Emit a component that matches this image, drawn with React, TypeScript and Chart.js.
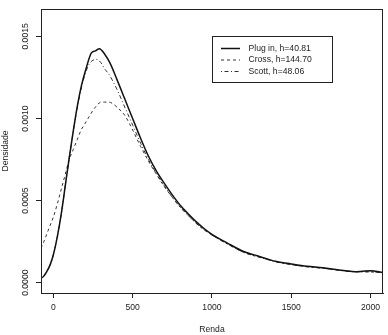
import React, { useEffect, useRef } from "react";
import { Chart, registerables } from "chart.js";

Chart.register(...registerables);

const plugX = [-78, -60, -40, -20, 0, 25, 50, 75, 100, 125, 150, 177, 205, 240, 265, 290, 325, 356, 400, 450, 500, 550, 600, 650, 700, 750, 800, 850, 900, 950, 1000, 1100, 1200, 1300, 1400, 1500, 1600, 1700, 1800, 1900, 1950, 2000, 2079];
const plugY = [0.000027, 0.00004, 0.00007, 0.00011, 0.00017, 0.00028, 0.00042, 0.00059, 0.00076, 0.00092, 0.00107, 0.0012, 0.0013, 0.0014, 0.001412, 0.001425, 0.00139, 0.00134, 0.00124, 0.00112, 0.001, 0.00088, 0.00077, 0.00068, 0.000605, 0.000535, 0.000472, 0.00042, 0.000372, 0.00033, 0.000295, 0.00024, 0.00019, 0.00016, 0.00013, 0.000114, 0.0001, 0.000091, 0.000078, 0.000067, 0.00007, 0.000073, 0.000062];

const crossX = [-78, -60, -40, -20, 0, 25, 50, 75, 100, 125, 150, 175, 200, 225, 250, 275, 300, 325, 350, 375, 400, 450, 500, 550, 600, 650, 700, 750, 800, 850, 900, 950, 1000, 1100, 1200, 1300, 1400, 1500, 1600, 1700, 1800, 1900, 2000, 2079];
const crossY = [0.00021, 0.00025, 0.0003, 0.00035, 0.0004, 0.00048, 0.00057, 0.00066, 0.00075, 0.00081, 0.00087, 0.00093, 0.00097, 0.00101, 0.00105, 0.00108, 0.0011, 0.0011, 0.0011, 0.00109, 0.00107, 0.00102, 0.00093, 0.00083, 0.00074, 0.00066, 0.000585, 0.00052, 0.00046, 0.00041, 0.000362, 0.000323, 0.00029, 0.000235, 0.000185, 0.000155, 0.00013, 0.00011, 0.000097, 0.000088, 0.000077, 0.000068, 0.000066, 0.00006];

const scottX = [-78, -60, -40, -20, 0, 25, 50, 75, 100, 125, 150, 175, 200, 225, 250, 275, 300, 325, 350, 400, 450, 500, 550, 600, 650, 700, 750, 800, 850, 900, 950, 1000, 1100, 1200, 1300, 1400, 1500, 1600, 1700, 1800, 1900, 2000, 2079];
const scottY = [0.00003, 0.000045, 0.00007, 0.00011, 0.00017, 0.00028, 0.00042, 0.00059, 0.00076, 0.00092, 0.00106, 0.00118, 0.00127, 0.00133, 0.001355, 0.00136, 0.00134, 0.0013, 0.00127, 0.00118, 0.00107, 0.00096, 0.00085, 0.00075, 0.000665, 0.00059, 0.00052, 0.00046, 0.00041, 0.000362, 0.000323, 0.00029, 0.000235, 0.000185, 0.000155, 0.000128, 0.00011, 0.000097, 0.000088, 0.000076, 0.000066, 0.000066, 0.00006];

const seriesLabels = ["Plug in, h=40.81", "Cross, h=144.70", "Scott, h=48.06"];
const xTicks = [0, 500, 1000, 1500, 2000];
const yTicks = [0, 0.0005, 0.001, 0.0015];
const xTitle = "Renda";
const yTitle = "Densidade";

const FONT = "'Liberation Sans', Arial, Helvetica, sans-serif";
const FS = 8.6;

const zip = (xs: number[], ys: number[]) => xs.map((x, i) => ({ x, y: ys[i] }));

const boxAndLegend = {
  id: "boxAndLegend",
  afterDraw(chart: any) {
    const { ctx, chartArea } = chart;
    ctx.save();
    ctx.strokeStyle = "#222";
    ctx.lineWidth = 1;
    ctx.setLineDash([]);
    ctx.strokeRect(
      Math.round(chartArea.left) + 0.5,
      Math.round(chartArea.top) + 0.5,
      Math.round(chartArea.right - chartArea.left) - 1,
      Math.round(chartArea.bottom - chartArea.top)
    );
    // legend
    const lx = 212.5, ly = 36.5, lw = 120, lh = 46;
    ctx.fillStyle = "#fff";
    ctx.fillRect(lx, ly, lw, lh);
    ctx.strokeRect(lx, ly, lw, lh);
    const rows = [48.5, 60, 71.5];
    chart.data.datasets.forEach((ds: any, i: number) => {
      const y = rows[i];
      ctx.beginPath();
      ctx.strokeStyle = ds.borderColor;
      ctx.lineWidth = ds.borderWidth;
      ctx.setLineDash(ds.borderDash || []);
      ctx.moveTo(221, y);
      ctx.lineTo(240, y);
      ctx.stroke();
      ctx.setLineDash([]);
      ctx.fillStyle = "#222";
      ctx.font = `${FS}px ${FONT}`;
      ctx.textBaseline = "middle";
      ctx.textAlign = "left";
      ctx.fillText(ds.label, 248.5, y);
    });
    ctx.restore();
  },
};

export default function App() {
  const ref = useRef<HTMLCanvasElement>(null);
  useEffect(() => {
    if (!ref.current) return;
    const chart = new Chart(ref.current, {
      type: "line",
      data: {
        datasets: [
          {
            label: seriesLabels[0],
            data: zip(plugX, plugY),
            borderColor: "#111",
            borderWidth: 1.5,
            borderDash: [],
            pointRadius: 0,
            cubicInterpolationMode: "monotone",
          },
          {
            label: seriesLabels[1],
            data: zip(crossX, crossY),
            borderColor: "#333",
            borderWidth: 1,
            borderDash: [3, 3],
            pointRadius: 0,
            cubicInterpolationMode: "monotone",
          },
          {
            label: seriesLabels[2],
            data: zip(scottX, scottY),
            borderColor: "#333",
            borderWidth: 1,
            borderDash: [1, 2.5, 4, 2.5],
            pointRadius: 0,
            cubicInterpolationMode: "monotone",
          },
        ],
      },
      options: {
        responsive: false,
        animation: false,
        devicePixelRatio: 1,
        layout: { padding: { top: 9, right: 5, left: 0, bottom: 0 } },
        plugins: { legend: { display: false }, tooltip: { enabled: false } },
        scales: {
          x: {
            type: "linear",
            min: -78,
            max: 2079,
            afterBuildTicks: (s: any) => {
              s.ticks = xTicks.map((v) => ({ value: v }));
            },
            afterFit: (s: any) => {
              s.height = 42;
            },
            grid: { drawOnChartArea: false, drawTicks: true, tickLength: 5, color: "#222" },
            border: { display: true, color: "#222" },
            ticks: {
              color: "#222",
              font: { family: FONT, size: FS },
              padding: 4,
              maxRotation: 0,
              callback: (v: any) => String(v),
            },
            title: {
              display: true,
              text: xTitle,
              color: "#222",
              font: { family: FONT, size: FS },
              padding: { top: 0, bottom: 0 },
            },
          },
          y: {
            type: "linear",
            min: -0.0000628,
            max: 0.001667,
            afterBuildTicks: (s: any) => {
              s.ticks = yTicks.map((v) => ({ value: v }));
            },
            afterFit: (s: any) => {
              s.width = 41;
            },
            grid: { drawOnChartArea: false, drawTicks: true, tickLength: 5, color: "#222" },
            border: { display: true, color: "#222" },
            ticks: {
              color: "#222",
              font: { family: FONT, size: FS },
              minRotation: 90,
              maxRotation: 90,
              crossAlign: "center",
              padding: -3,
              callback: (v: any) => Number(v).toFixed(4),
            },
            title: {
              display: true,
              text: yTitle,
              color: "#222",
              font: { family: FONT, size: FS },
              padding: { top: 0, bottom: 0 },
            },
          },
        },
      },
      plugins: [boxAndLegend],
    } as any);
    return () => chart.destroy();
  }, []);
  return (
    <div style={{ position: "absolute", left: 0, top: 0, width: 388, height: 335, background: "#fff" }}>
      <canvas ref={ref} width={388} height={335} />
    </div>
  );
}
